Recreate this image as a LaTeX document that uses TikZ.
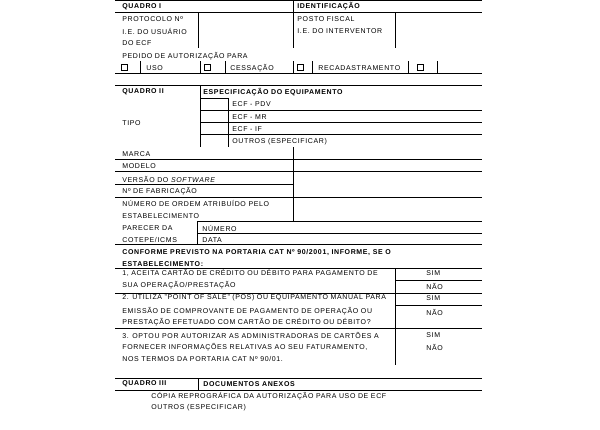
\documentclass[tikz,border=0pt]{standalone}
\usepackage{fontspec}
\setmainfont{Liberation Sans}[LetterSpace=9]
\begin{document}
\begin{tikzpicture}[x=1pt,y=-1pt,line width=0.8pt,
 t/.style={anchor=west,inner sep=0pt,font=\fontsize{7}{8}\selectfont},
 tb/.style={t,font=\fontsize{7}{8}\selectfont\bfseries},
 box/.style={draw,line width=0.7pt,minimum width=6pt,minimum height=6pt,inner sep=0pt}]
\useasboundingbox (0,0) rectangle (600,429);
\newcommand\hl[3]{\draw (#2,#1) -- (#3,#1);}
\newcommand\vl[3]{\draw (#1,#2) -- (#1,#3);}
% Quadro I
\hl{0.5}{115}{482}\hl{12}{115}{482}\hl{73}{115}{482}\hl{85}{115}{482}
\vl{293}{0}{48}\vl{198}{12}{48}\vl{395}{12}{48}
\node[tb] (q1) at (122,6.5) {QUADRO I};
\node[tb] (id) at (297,6.5) {IDENTIFICAÇÃO};
\node[t] (p1) at (122,19) {PROTOCOLO Nº};
\node[t] (p2) at (122,31) {I.E. DO USUÁRIO};
\node[t] (p3) at (122,43) {DO ECF};
\node[t] (p4) at (297,19) {POSTO FISCAL};
\node[t] (p5) at (297,31) {I.E. DO INTERVENTOR};
\node[t] (p6) at (122,56) {PEDIDO DE AUTORIZAÇÃO PARA};
\foreach \x in {140,200,225,293,312,408,437}{\vl{\x}{61}{73}}
\foreach \x/\n in {124/b1,207/b2,300/b3,420/b4}{\node[box] (\n) at (\x,67.5) {};}
\node[t] (u1) at (146,68) {USO};
\node[t] (u2) at (230,68) {CESSAÇÃO};
\node[t] (u3) at (318,68) {RECADASTRAMENTO};
% Quadro II
\node[tb] (q2) at (122,92) {QUADRO II};
\node[tb] (es) at (203,92) {ESPECIFICAÇÃO DO EQUIPAMENTO};
\vl{200}{85}{147}\vl{228}{98}{147}
\hl{98}{200}{228}\hl{110}{200}{482}\hl{122}{200}{482}\hl{134}{200}{482}
\node[t] (e1) at (232,104) {ECF - PDV};
\node[t] (e2) at (232,117) {ECF - MR};
\node[t] (e3) at (232,129.5) {ECF - IF};
\node[t] (e4) at (232,142) {OUTROS (ESPECIFICAR)};
\node[t] (tp) at (122,123) {TIPO};
\hl{159}{115}{482}\hl{171}{115}{482}\hl{184}{115}{293}\hl{197}{115}{482}
\hl{221}{197}{482}\hl{233}{197}{482}\hl{244}{115}{482}\hl{268}{115}{482}
\vl{293}{147}{221}\vl{197}{221}{244}
\node[t] (m1) at (122,154) {MARCA};
\node[t] (m2) at (122,166) {MODELO};
\node[t] (m3) at (122,179) {VERSÃO DO \textit{SOFTWARE}};
\node[t] (m4) at (122,191.5) {Nº DE FABRICAÇÃO};
\node[t] (m5) at (122,203.5) {NÚMERO DE ORDEM ATRIBUÍDO PELO};
\node[t] (m6) at (122,216) {ESTABELECIMENTO};
\node[t] (m7) at (122,228.5) {PARECER DA};
\node[t] (m8) at (122,239.5) {COTEPE/ICMS};
\node[t] (m9) at (202,228.5) {NÚMERO};
\node[t] (m10) at (202,240) {DATA};
\node[tb] (c1) at (122,252) {CONFORME PREVISTO NA PORTARIA CAT Nº 90/2001, INFORME, SE O};
\node[tb] (c2) at (122,264) {ESTABELECIMENTO:};
\vl{395}{268}{365}
\hl{280}{395}{482}\hl{293}{115}{482}\hl{305}{395}{482}\hl{328}{115}{482}
\node[t] (a1) at (122,273) {1, ACEITA CARTÃO DE CRÉDITO OU DÉBITO PARA PAGAMENTO DE};
\node[t] (a2) at (122,285) {SUA OPERAÇÃO/PRESTAÇÃO};
\node[t] (b1t) at (122,298) {2. UTILIZA "POINT OF SALE" (POS) OU EQUIPAMENTO MANUAL PARA};
\node[t] (b2t) at (122,311) {EMISSÃO DE COMPROVANTE DE PAGAMENTO DE OPERAÇÃO OU};
\node[t] (b3t) at (122,322) {PRESTAÇÃO EFETUADO COM CARTÃO DE CRÉDITO OU DÉBITO?};
\node[t] (d1) at (122,335) {3. OPTOU POR AUTORIZAR AS ADMINISTRADORAS DE CARTÕES A};
\node[t] (d2) at (122,347) {FORNECER INFORMAÇÕES RELATIVAS AO SEU FATURAMENTO,};
\node[t] (d3) at (122,359) {NOS TERMOS DA PORTARIA CAT Nº 90/01.};
\foreach \y/\w [count=\i] in {273/SIM,286/NÃO,298/SIM,312/NÃO,335/SIM,347/NÃO}{\node[t] (s\i) at (426,\y) {\w};}
% Quadro III
\hl{378}{115}{482}\hl{390}{115}{482}\vl{198}{378}{390}
\node[tb] (q3) at (122,384) {QUADRO III};
\node[tb] (da) at (203,384) {DOCUMENTOS ANEXOS};
\node[t] (f1) at (151,396.5) {CÓPIA REPROGRÁFICA DA AUTORIZAÇÃO PARA USO DE ECF};
\node[t] (f2) at (151,407.5) {OUTROS (ESPECIFICAR)};
\end{tikzpicture}
\end{document}
